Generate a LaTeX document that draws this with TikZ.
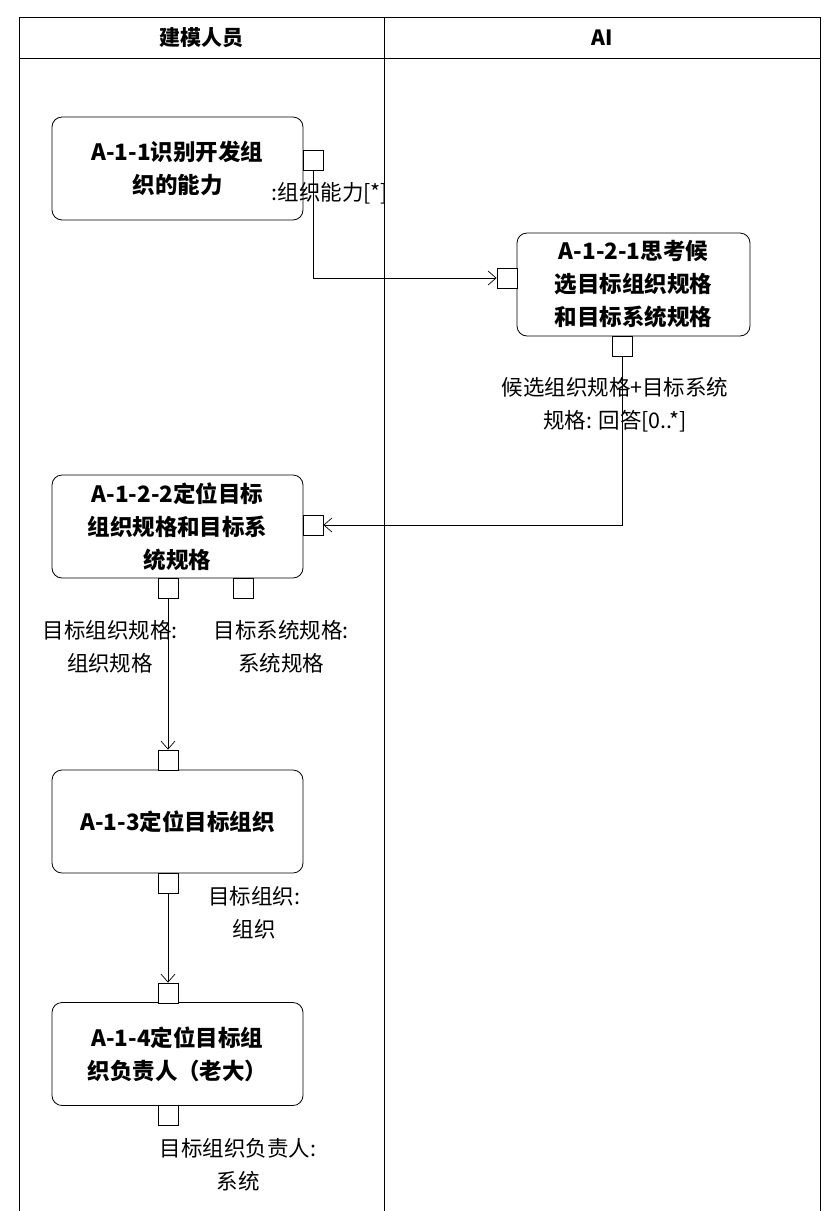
\documentclass[tikz,border=0pt]{standalone}
\usepackage{fontspec}
\setmainfont{Noto Sans CJK SC}
\usetikzlibrary{arrows.meta}
\begin{document}
\begin{tikzpicture}[x=1pt,y=-1pt,
 act/.style={draw,rounded corners=10pt,line width=0.8pt,minimum width=251pt,minimum height=103pt,align=center,font=\fontsize{22.5}{33}\selectfont\bfseries,text width=240pt,inner sep=2pt},
 pin/.style={draw,fill=white,line width=0.8pt,minimum size=20pt,inner sep=0pt},
 lbl/.style={align=center,font=\fontsize{21.5}{33}\selectfont},
 hd/.style={font=\fontsize{21}{24}\selectfont\bfseries},
 flow/.style={line width=0.7pt,-{Straight Barb[length=8pt,width=14pt]}}]
\useasboundingbox (0,0) rectangle (839,1211);
\draw[line width=0.8pt] (19,1211) -- (19,17) -- (820,17) -- (820,1211);
\draw[line width=0.8pt] (19,58) -- (820,58);
\draw[line width=0.8pt] (384,17) -- (384,1211);
\node[hd] (h1) at (201,38) {建模人员};
\node[hd] (h2) at (602,38) {AI};
\node[act] (a11) at (177.5,168.5) {A-1-1识别开发组\\织的能力};
\node[act,minimum width=233pt,text width=225pt] (a121) at (633.5,284.5) {A-1-2-1思考候\\选目标组织规格\\和目标系统规格};
\node[act] (a122) at (177.5,526.5) {A-1-2-2定位目标\\组织规格和目标系\\统规格};
\node[act] (a13) at (177.5,821.5) {A-1-3定位目标组织};
\node[act] (a14) at (177.5,1054) {A-1-4定位目标组\\织负责人（老大）};
\node[pin] (p1) at (313,160) {};
\node[pin] (p2) at (507,278) {};
\node[pin] (p3) at (622,346) {};
\node[pin] (p4) at (313,525) {};
\node[pin] (p5) at (168,588) {};
\node[pin] (p6) at (243,588) {};
\node[pin] (p7) at (168,760) {};
\node[pin] (p8) at (168,883) {};
\node[pin] (p9) at (168,993) {};
\node[pin] (p10) at (168,1115) {};
\node[lbl,anchor=west] (l1) at (268,193) {:组织能力[*]};
\node[lbl] (l2) at (615,405) {候选组织规格+目标系统\\规格: 回答[0..*]};
\node[lbl] (l3) at (110,647) {目标组织规格:\\组织规格};
\node[lbl] (l4) at (281,647) {目标系统规格:\\系统规格};
\node[lbl] (l5) at (254,913) {目标组织:\\组织};
\node[lbl] (l6) at (238,1165) {目标组织负责人:\\系统};
\draw[flow] (p1.south) |- (p2.west);
\draw[flow] (p3.south) |- (p4.east);
\draw[flow] (p5.south) -- (p7.north);
\draw[flow] (p8.south) -- (p9.north);
\end{tikzpicture}
\end{document}
